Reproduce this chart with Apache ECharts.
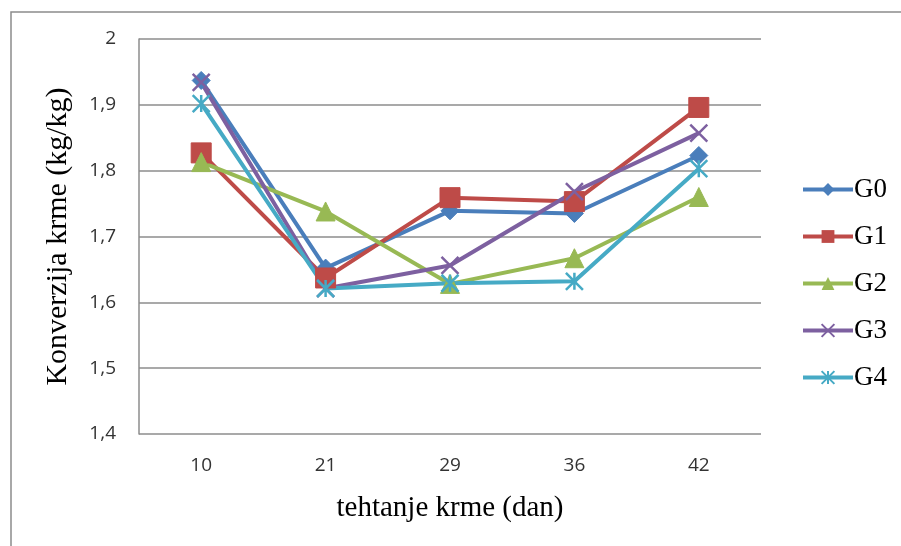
<!DOCTYPE html>
<html>
<head>
<meta charset="utf-8">
<script src="https://cdn.jsdelivr.net/npm/echarts@6/dist/echarts.min.js"></script>
<style>
  html, body { margin: 0; padding: 0; background: #fff; }
  #chart { width: 901px; height: 546px; }
</style>
</head>
<body>
<div id="chart"></div>
<script>
// Weighing days (dan)
const days = ['10', '21', '29', '36', '42'];

// Feed conversion (kg/kg) per group
const g0 = [1.937, 1.652, 1.739, 1.735, 1.823];
const g1 = [1.827, 1.637, 1.759, 1.753, 1.896];
const g2 = [1.813, 1.738, 1.628, 1.667, 1.760];
const g3 = [1.934, 1.621, 1.656, 1.768, 1.857];
const g4 = [1.902, 1.621, 1.629, 1.632, 1.803];

const groupNames = ['G0', 'G1', 'G2', 'G3', 'G4'];
const groupColors = ['#4A7EBB', '#BE4B48', '#98B954', '#7D60A0', '#46AAC5'];

const yTicks = { min: 1.4, max: 2.0, step: 0.1 };

const crossPath = 'path://M0,0L10,10M10,0L0,10';
const starPath = 'path://M5,0L5,10M0,0L10,10M10,0L0,10';

function makeSeries(name, values, color, symbol, size, extra) {
  return Object.assign({
    name: name,
    type: 'line',
    data: values,
    symbol: symbol,
    symbolSize: size,
    lineStyle: { color: color, width: 4 },
    itemStyle: { color: color, borderColor: color },
    z: 2
  }, extra || {});
}

function draw() {
  const chart = echarts.init(document.getElementById('chart'), null, { renderer: 'canvas' });
  chart.setOption({
    animation: false,
    backgroundColor: '#ffffff',
    graphic: [{
      type: 'rect',
      shape: { x: 11, y: 12, width: 1000, height: 1000 },
      style: { fill: 'none', stroke: '#8c8c8c', lineWidth: 1.5 },
      silent: true
    }],
    grid: { left: 139, right: 140, top: 39, bottom: 112, containLabel: false },
    legend: {
      orient: 'vertical',
      left: 796,
      top: 171,
      itemGap: 20,
      itemWidth: 50,
      itemHeight: 16,
      lineStyle: { width: 4 },
      textStyle: { fontFamily: 'Liberation Serif', fontSize: 27, color: '#000', padding: [0, 0, 0, -4] },
      data: groupNames
    },
    xAxis: {
      type: 'category',
      data: days,
      boundaryGap: true,
      axisLine: { show: false },
      axisTick: { show: false },
      axisLabel: { color: '#333', fontFamily: 'Open Sans', fontSize: 19, margin: 22 },
      name: 'tehtanje krme (dan)',
      nameLocation: 'middle',
      nameGap: 60,
      nameTextStyle: { fontFamily: 'Liberation Serif', fontSize: 29, color: '#000' }
    },
    yAxis: {
      type: 'value',
      min: yTicks.min,
      max: yTicks.max,
      interval: yTicks.step,
      axisLine: { show: true, lineStyle: { color: '#8c8c8c', width: 1.5 } },
      axisTick: { show: false },
      splitLine: { show: true, lineStyle: { color: '#8c8c8c', width: 1.5 } },
      axisLabel: {
        color: '#333', fontFamily: 'Open Sans', fontSize: 19, margin: 23,
        formatter: v => (Math.round(v * 10) / 10).toString().replace('.', ',')
      },
      name: 'Konverzija krme (kg/kg)',
      nameLocation: 'middle',
      nameGap: 66,
      nameRotate: 90,
      nameTextStyle: { fontFamily: 'Liberation Serif', fontSize: 30, color: '#000' }
    },
    series: [
      makeSeries('G0', g0, groupColors[0], 'diamond', 18),
      makeSeries('G1', g1, groupColors[1], 'rect', 20),
      makeSeries('G2', g2, groupColors[2], 'triangle', 19),
      makeSeries('G3', g3, groupColors[3], crossPath, 17, {
        itemStyle: { color: 'none', borderColor: groupColors[3], borderWidth: 2.5 }
      }),
      makeSeries('G4', g4, groupColors[4], starPath, 17, {
        itemStyle: { color: 'none', borderColor: groupColors[4], borderWidth: 2.5 }
      })
    ]
  });
}

// Make sure the named fonts are ready before the canvas measures text
Promise.all([
  document.fonts.load('19px "Open Sans"'),
  document.fonts.load('29px "Liberation Serif"')
]).then(draw, draw);
</script>
</body>
</html>
